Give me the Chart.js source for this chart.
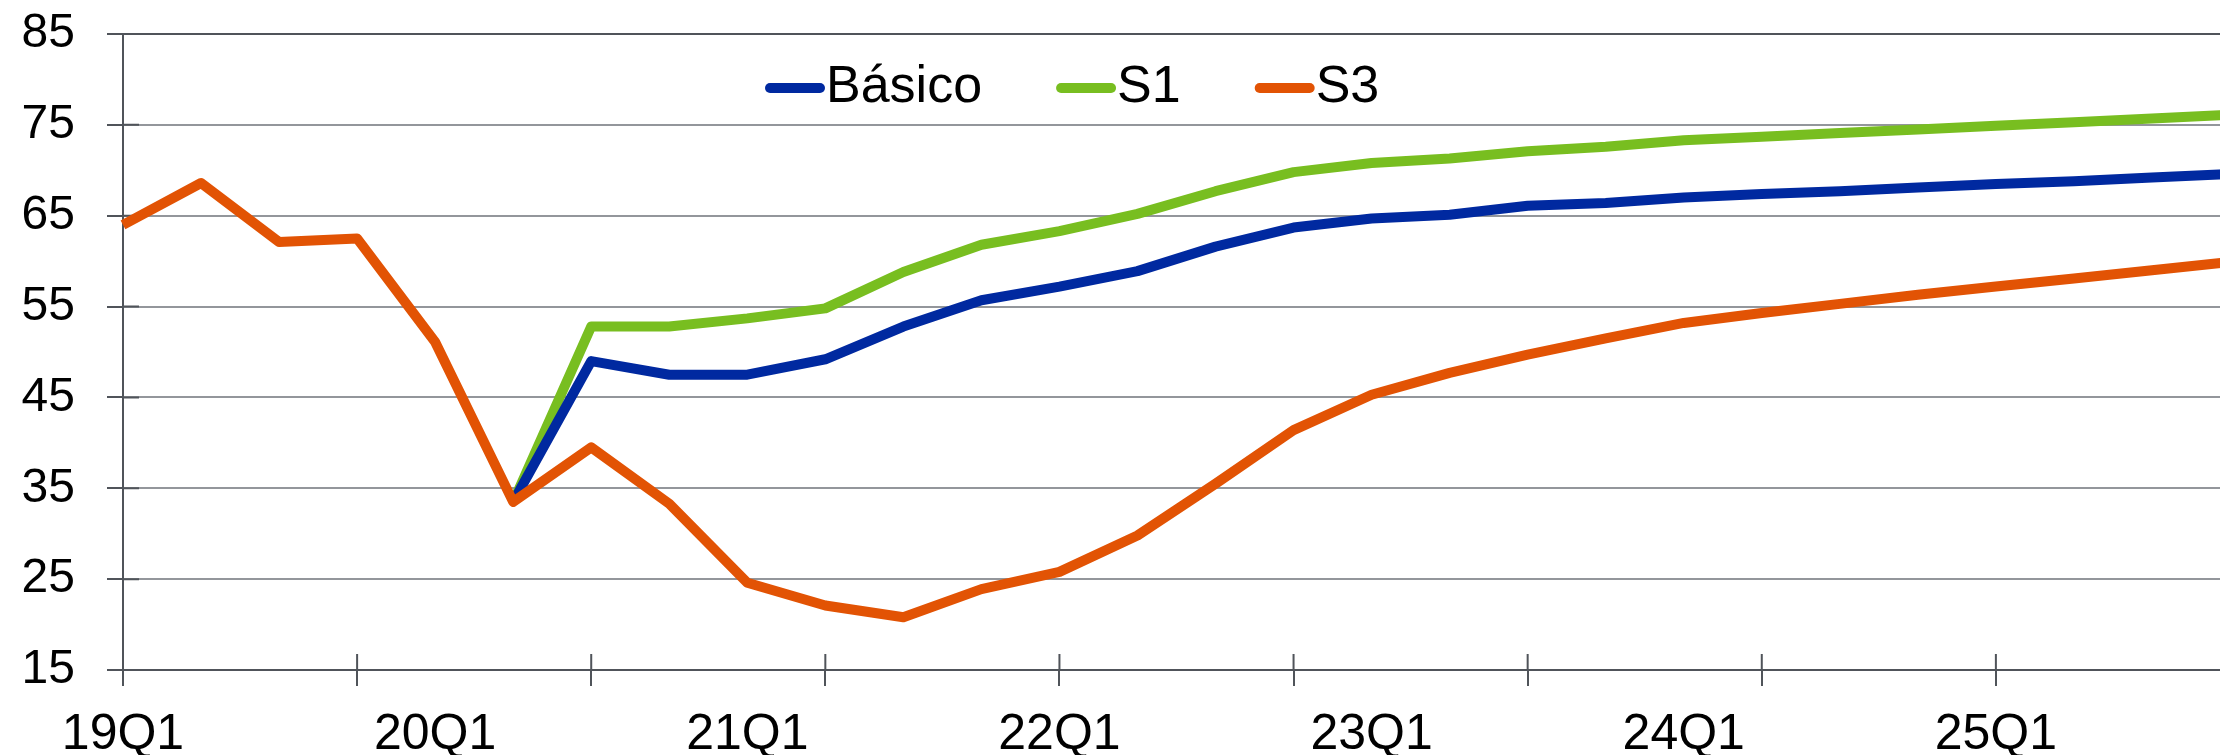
<!DOCTYPE html>
<html>
<head>
<meta charset="utf-8">
<script src="https://cdn.jsdelivr.net/npm/chart.js@4/dist/chart.umd.min.js"></script>
<style>
  html, body { margin: 0; padding: 0; background: #fff; overflow: hidden; }
</style>
</head>
<body>
<canvas id="grafico" width="2300" height="755"></canvas>
<script>
// trimestres
const trimestres = [
  '19Q1','19Q2','19Q3','19Q4',
  '20Q1','20Q2','20Q3','20Q4',
  '21Q1','21Q2','21Q3','21Q4',
  '22Q1','22Q2','22Q3','22Q4',
  '23Q1','23Q2','23Q3','23Q4',
  '24Q1','24Q2','24Q3','24Q4',
  '25Q1','25Q2','25Q3','25Q4'
];

const basico = [null, null, null, null, null, 33.5, 49.0, 47.5, 47.5, 49.2, 52.8, 55.7, 57.2, 58.9,
  61.6, 63.7, 64.7, 65.1, 66.1, 66.4, 67.0, 67.4, 67.7, 68.1, 68.5, 68.8, 69.2, 69.6];

const s1 = [null, null, null, null, null, 33.5, 52.8, 52.8, 53.7, 54.8, 58.8, 61.8, 63.3, 65.2,
  67.7, 69.8, 70.8, 71.3, 72.1, 72.6, 73.3, 73.7, 74.1, 74.5, 74.9, 75.3, 75.7, 76.1];

const s3 = [64.0, 68.6, 62.1, 62.5, 51.1, 33.5, 39.5, 33.3, 24.6, 22.1, 20.8, 23.9, 25.8, 29.8,
  35.5, 41.4, 45.3, 47.7, 49.7, 51.5, 53.2, 54.3, 55.3, 56.3, 57.2, 58.1, 59.0, 59.9];

const ticksY = [15, 25, 35, 45, 55, 65, 75, 85];

const fonte = '"Liberation Sans", Arial, sans-serif';
const escuro = '#50545a';
const cinza = '#93969b';

// legenda dentro do gráfico
const legendaInterna = {
  id: 'legendaInterna',
  afterDraw(chart){
    const ctx = chart.ctx;
    const y = chart.chartArea.top + 54;
    let x = chart.chartArea.left + 642;
    ctx.save();
    ctx.font = '52px ' + fonte;
    ctx.textBaseline = 'middle';
    chart.data.datasets.forEach(ds => {
      ctx.strokeStyle = ds.borderColor;
      ctx.lineWidth = 10;
      ctx.lineCap = 'round';
      ctx.beginPath();
      ctx.moveTo(x + 5, y);
      ctx.lineTo(x + 55, y);
      ctx.stroke();
      ctx.fillStyle = '#000';
      ctx.fillText(ds.label, x + 61, y);
      x += 61 + ctx.measureText(ds.label).width + 74;
    });
    ctx.restore();
  }
};

// marcas de escala para dentro
const marcasInternas = {
  id: 'marcasInternas',
  beforeDatasetsDraw(chart){
    const { ctx, chartArea, scales } = chart;
    ctx.save();
    ctx.strokeStyle = escuro;
    ctx.lineWidth = 2;
    ctx.beginPath();
    scales.y.ticks.forEach(t => {
      const py = scales.y.getPixelForValue(t.value);
      ctx.moveTo(chartArea.left, py);
      ctx.lineTo(chartArea.left + 16, py);
    });
    scales.x.ticks.forEach((t, i) => {
      if(i % 3 !== 0) return;
      const px = scales.x.getPixelForTick(i);
      ctx.moveTo(px, chartArea.bottom);
      ctx.lineTo(px, chartArea.bottom - 16);
    });
    ctx.stroke();
    ctx.restore();
  }
};

new Chart(document.getElementById('grafico'), {
  type: 'line',
  data: {
    labels: trimestres,
    datasets: [
      { label: 'Básico', data: basico, borderColor: '#0029a0', order: 1 },
      { label: 'S1', data: s1, borderColor: '#78be20', order: 2 },
      { label: 'S3', data: s3, borderColor: '#e25304', order: 0 }
    ]
  },
  options: {
    responsive: false,
    animation: false,
    devicePixelRatio: 1,
    layout: { padding: { top: 34, right: 70, left: 0, bottom: 0 } },
    elements: {
      line: { borderWidth: 10, tension: 0, borderJoinStyle: 'round', borderCapStyle: 'butt', fill: false },
      point: { radius: 0, hoverRadius: 0 }
    },
    plugins: {
      legend: { display: false },
      tooltip: { enabled: false }
    },
    scales: {
      x: {
        offset: false,
        afterFit(scale){ scale.height = 85; },
        border: { display: true, color: escuro, width: 2 },
        grid: {
          drawOnChartArea: false,
          tickLength: 16,
          lineWidth: 2,
          color: c => (c.index % 3 === 0 ? escuro : 'rgba(0,0,0,0)')
        },
        ticks: {
          autoSkip: false,
          maxRotation: 0,
          padding: 19,
          color: '#000',
          font: { family: fonte, size: 50 },
          callback(v, i){ return i % 4 === 0 ? trimestres[i] : ''; }
        }
      },
      y: {
        min: ticksY[0],
        max: ticksY[ticksY.length - 1],
        afterFit(scale){
          scale.width = 123;
          scale.paddingTop = 0;
          scale.paddingBottom = 0;
        },
        afterBuildTicks(scale){ scale.ticks = ticksY.map(v => ({ value: v })); },
        border: { display: true, color: escuro, width: 2 },
        grid: {
          lineWidth: 2,
          tickLength: 16,
          tickColor: escuro,
          color: c => (c.tick && c.tick.value === 85 ? escuro : cinza)
        },
        ticks: {
          padding: 32,
          color: '#000',
          font: { family: fonte, size: 48 }
        }
      }
    }
  },
  plugins: [marcasInternas, legendaInterna]
});
</script>
</body>
</html>
